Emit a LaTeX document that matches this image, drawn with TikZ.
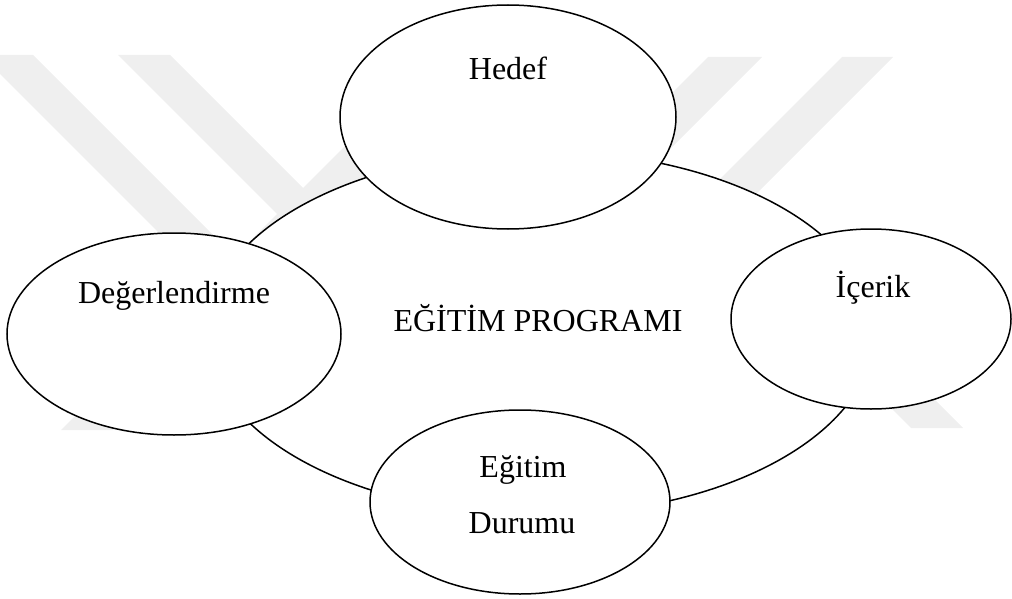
\documentclass[tikz,border=0pt]{standalone}
\usepackage{fontspec}
\setmainfont{Liberation Serif}
\usetikzlibrary{shapes.geometric}
\definecolor{wm}{RGB}{239,239,239}
\begin{document}
\begin{tikzpicture}[x=1pt,y=-1pt,
  wmband/.style={fill=wm, draw=none},
  oval/.style={ellipse, draw=black, fill=white, line width=1.5pt, inner sep=0pt, outer sep=0pt},
  lbl/.style={anchor=base, inner sep=0pt, font=\fontsize{32}{38}\selectfont}]
\useasboundingbox (0,0) rectangle (1012,599);
% faint watermark
\begin{scope}
\clip (0,0) rectangle (1012,599);
\fill[wmband] (-19,55) -- (33,55) -- (378,400) -- (326,400) -- cycle;
\fill[wmband] (118,55) -- (170,55) -- (545,430) -- (493,430) -- cycle;
\fill[wmband] (436,55) -- (488,55) -- (113,430) -- (61,430) -- cycle;
\fill[wmband] (708,57) -- (762,57) -- (389,430) -- (335,430) -- cycle;
\fill[wmband] (842,57) -- (893,57) -- (520,430) -- (469,430) -- cycle;
\fill[wmband] (683,200) -- (735,200) -- (963,428) -- (911,428) -- cycle;
\end{scope}
% central ring
\node[oval, minimum width=668pt, minimum height=364pt] (prog) at (540,333) {};
% surrounding ellipses
\node[oval, minimum width=336pt, minimum height=224pt] (hedef) at (508,117) {};
\node[oval, minimum width=334pt, minimum height=202pt] (deger) at (174,334) {};
\node[oval, minimum width=280pt, minimum height=180pt] (icerik) at (871,319) {};
\node[oval, minimum width=300pt, minimum height=184pt] (durum) at (520,502) {};
% labels
\node[lbl] (tHedef) at (508,80) {Hedef};
\node[lbl] (tDeger) at (174,303) {Değerlendirme};
\node[lbl] (tProg) at (538,331) {EĞİTİM PROGRAMI};
\node[lbl] (tIcerik) at (873,297) {İçerik};
\node[lbl] (tEgitim) at (523,477) {Eğitim};
\node[lbl] (tDurumu) at (522,533) {Durumu};
\end{tikzpicture}
\end{document}
